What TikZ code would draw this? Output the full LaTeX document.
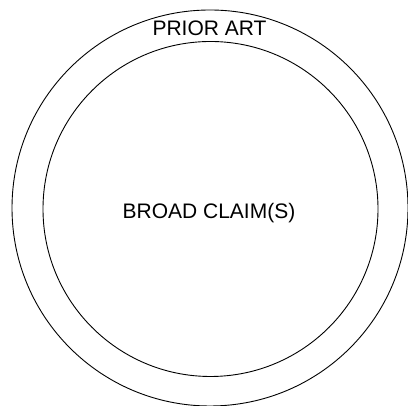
\documentclass[tikz,border=0pt]{standalone}
\usepackage{fontspec}
\setmainfont{Liberation Sans}
\begin{document}
\begin{tikzpicture}[x=1pt,y=1pt,
  ring/.style={draw=black,line width=0.9pt},
  lbl/.style={font=\fontsize{21}{24}\selectfont,anchor=base,inner sep=0pt}]
\useasboundingbox (0,0) rectangle (408,406);
\begin{scope}
\clip (0,0) rectangle (408,406);
\node[ring,circle,minimum size=396pt,inner sep=0pt] (outer) at (210,198) {};
\node[ring,circle,minimum size=335pt,inner sep=0pt] (inner) at (210.5,197) {};
\end{scope}
\node[lbl] (prior) at (209.5,370) {PRIOR ART};
\node[lbl] (broad) at (209,187.7) {BROAD CLAIM(S)};
\end{tikzpicture}
\end{document}
